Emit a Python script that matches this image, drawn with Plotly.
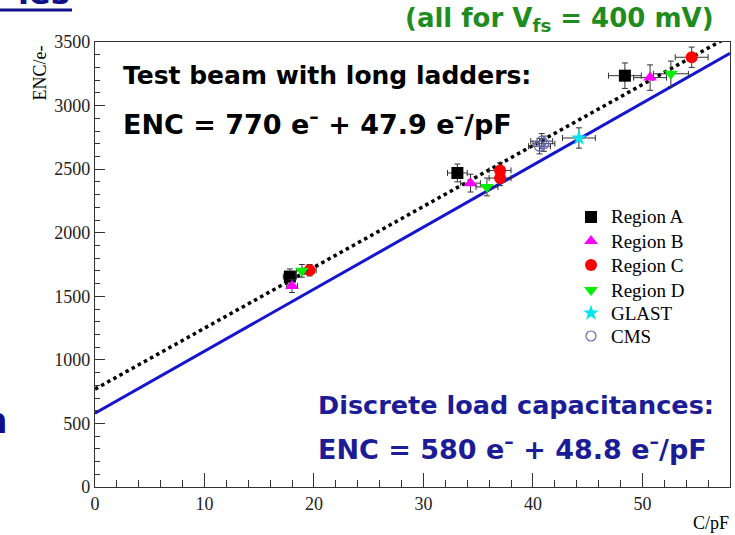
import plotly.graph_objects as go

# ---------------- data ----------------
a_x = [17.8, 33.1, 48.4]
a_y = [1655, 2470, 3235]
a_ex = [0.6, 0.9, 1.5]
a_ey = [60, 70, 100]

b_x = [18.0, 34.3, 50.7]
b_y = [1580, 2390, 3220]
b_ex = [0.5, 0.9, 1.5]
b_ey = [50, 70, 100]

c_x = [19.6, 37.0, 37.0, 54.5]
c_y = [1705, 2490, 2430, 3380]
c_ex = [0.6, 1.0, 1.0, 1.5]
c_ey = [45, 60, 60, 80]

d_x = [18.9, 35.8, 52.6]
d_y = [1700, 2360, 3250]
d_ex = [0.5, 1.0, 1.6]
d_ey = [50, 70, 100]

glast_x = [44.2]
glast_y = [2745]
glast_ex = [1.5]
glast_ey = [80]

cms_x = [40.6, 40.8, 41.0]
cms_y = [2680, 2720, 2700]
cms_ex = [1.0, 1.0, 1.0]
cms_ey = [60, 60, 60]

# fit lines: ENC = intercept + slope * C
fit_names = ["Test beam", "Discrete load"]
fit_intercept = [770, 580]
fit_slope = [47.9, 48.8]
fit_x = [0, 58]

# ---------------- layout geometry ----------------
W, H = 735, 535
L, R, T, B = 95, 730, 42, 487


def px(x):
    return (x - L) / (R - L)


def py(y):
    return (B - y) / (B - T)


fig = go.Figure()

# fit lines
fig.add_trace(go.Scatter(
    x=fit_x, y=[fit_intercept[1] + fit_slope[1] * v for v in fit_x],
    mode="lines", line=dict(color="#1515d0", width=3), showlegend=False,
    hoverinfo="skip"))
fig.add_trace(go.Scatter(
    x=fit_x, y=[fit_intercept[0] + fit_slope[0] * v for v in fit_x],
    mode="lines", line=dict(color="black", width=3.5, dash="dot"), showlegend=False,
    hoverinfo="skip"))

legend_rows = []  # (name, symbol, color, size, line)


def add_series(name, xs, ys, exs, eys, symbol, color, size, line=None):
    marker = dict(symbol=symbol, color=color, size=size)
    marker["line"] = line if line else dict(width=0)
    fig.add_trace(go.Scatter(
        x=xs, y=ys, mode="markers", name=name, marker=marker, showlegend=False,
        error_x=dict(type="data", array=exs, visible=True, color="#333333",
                     thickness=1, width=3),
        error_y=dict(type="data", array=eys, visible=True, color="#333333",
                     thickness=1, width=3),
    ))
    legend_rows.append((name, marker))


add_series("Region A", a_x, a_y, a_ex, a_ey, "square", "black", 12)
add_series("Region B", b_x, b_y, b_ex, b_ey, "triangle-up", "#ff00ff", 12)
add_series("Region C", c_x, c_y, c_ex, c_ey, "circle", "#ff0000", 12)
add_series("Region D", d_x, d_y, d_ex, d_ey, "triangle-down", "#00ee00", 12)
add_series("GLAST", glast_x, glast_y, glast_ex, glast_ey, "star", "#00e5ee", 12)
add_series("CMS", cms_x, cms_y, cms_ex, cms_ey, "circle-open", "#6666bb", 10,
           line=dict(color="#6666bb", width=1.2))

serif = "Liberation Serif, Times New Roman, serif"
bold = "DejaVu Sans, Arial, sans-serif"
MINUS = "<sup>\u2013</sup>"

annotations = [
    dict(x=px(121), y=py(75), text="<b>Test beam with long ladders:</b>",
         font=dict(family=bold, size=25, color="black")),
    dict(x=px(121), y=py(122), text="<b>ENC = 770 e" + MINUS + " + 47.9 e" + MINUS + "/pF</b>",
         font=dict(family=bold, size=27, color="black")),
    dict(x=px(316), y=py(405), text="<b>Discrete load capacitances:</b>",
         font=dict(family=bold, size=25.5, color="#1c1c96")),
    dict(x=px(316), y=py(447), text="<b>ENC = 580 e" + MINUS + " + 48.8 e" + MINUS + "/pF</b>",
         font=dict(family=bold, size=27, color="#1c1c96")),
    dict(x=px(403), y=py(20), text="<b>(all for V<sub>fs</sub> = 400 mV)</b>",
         font=dict(family=bold, size=26, color="#1e8c1e")),
    dict(x=px(40), y=py(44), text="ENC/e-", textangle=-90, xanchor="center",
         yanchor="top", font=dict(family=serif, size=18, color="black")),
    dict(x=px(731), y=py(523), text="C/pF", xanchor="right",
         font=dict(family=serif, size=18, color="black")),
    dict(x=px(10), y=py(420), text="<b>n</b>", xanchor="right",
         font=dict(family=bold, size=36, color="#10108a")),
    dict(x=px(72), y=py(14), text="<b>ies</b>", xanchor="right", yanchor="bottom",
         font=dict(family=bold, size=32, color="#10108a")),
]

# manual legend (pixel-positioned rows)
leg_y = [217, 241, 265, 290, 313, 336]
leg_mx, leg_tx = 591, 609
for (name, marker), yy in zip(legend_rows, leg_y):
    annotations.append(dict(x=px(leg_tx), y=py(yy), text=name,
                            font=dict(family=serif, size=19, color="black")))
    fig.add_trace(go.Scatter(x=[leg_mx], y=[yy], xaxis="x2", yaxis="y2",
                             mode="markers", marker=marker, showlegend=False,
                             hoverinfo="skip"))

for a in annotations:
    a.setdefault("xanchor", "left")
    a.setdefault("yanchor", "middle")
    a.update(xref="paper", yref="paper", showarrow=False)

fig.update_layout(
    width=W, height=H,
    margin=dict(l=L, r=W - R, t=T, b=H - B, pad=0),
    paper_bgcolor="white", plot_bgcolor="white",
    annotations=annotations, showlegend=False,
    shapes=[dict(type="line", xref="paper", yref="paper",
                 x0=px(0), x1=px(72), y0=py(10), y1=py(10),
                 line=dict(color="#10108a", width=3))],
    xaxis=dict(range=[0, 58], showgrid=False, zeroline=False, showline=True,
               linecolor="#333", linewidth=1.2, mirror=True,
               ticks="inside", ticklen=14, tickcolor="#333", dtick=10, tick0=0,
               minor=dict(ticks="inside", ticklen=7, dtick=2, tickcolor="#333"),
               tickfont=dict(family=serif, size=18, color="#222")),
    yaxis=dict(range=[0, 3500], showgrid=False, zeroline=False, showline=True,
               linecolor="#333", linewidth=1.2, mirror=True,
               ticks="inside", ticklen=10, tickcolor="#333", dtick=500, tick0=0,
               minor=dict(ticks="inside", ticklen=5, dtick=100, tickcolor="#333"),
               tickfont=dict(family=serif, size=18, color="#222")),
    xaxis2=dict(overlaying="x", range=[L, R], visible=False, fixedrange=True),
    yaxis2=dict(overlaying="y", range=[B, T], visible=False, fixedrange=True),
)

fig.write_html("out.html")
